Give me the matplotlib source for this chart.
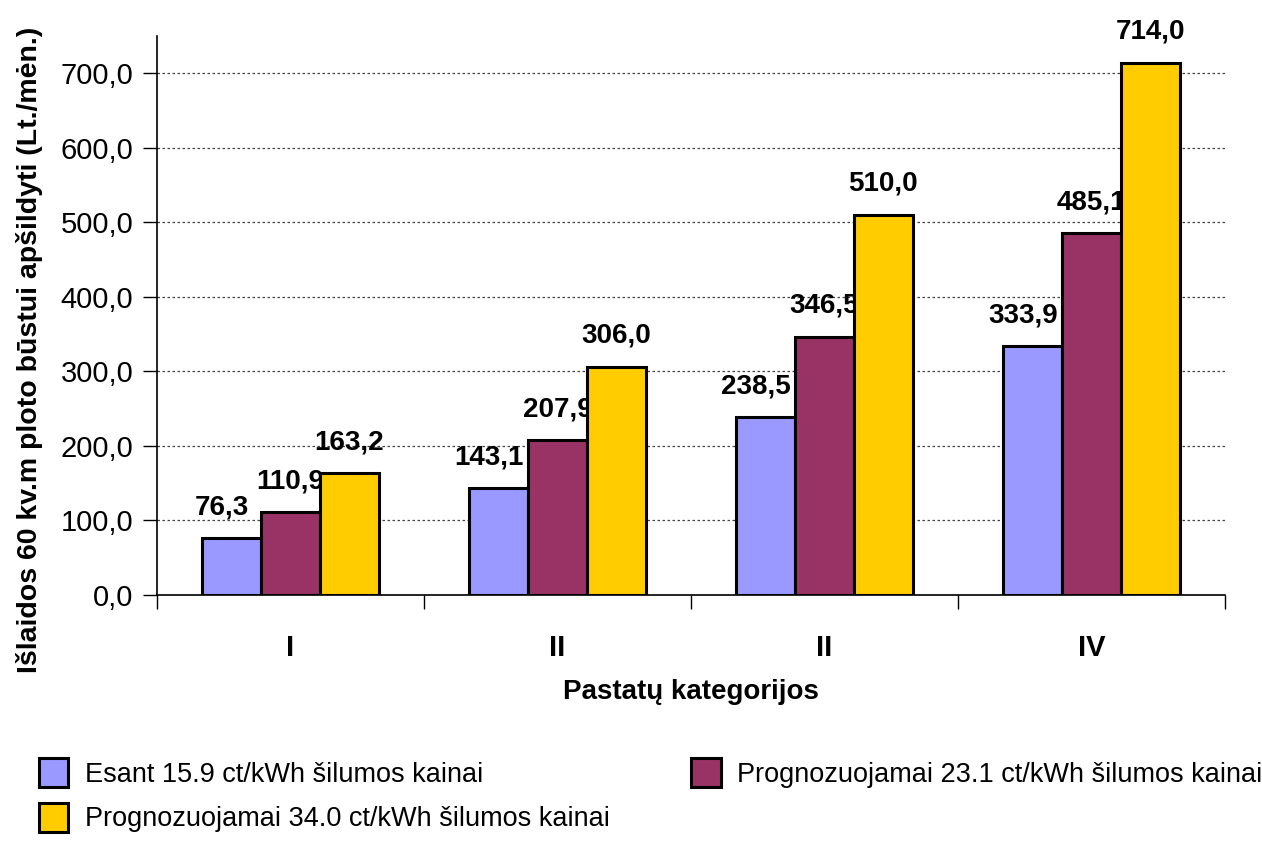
import numpy as np
import matplotlib.pyplot as plt

plt.rcParams['font.family'] = ['Liberation Sans', 'DejaVu Sans']

# data
categories = ['I', 'II', 'II', 'IV']
esant = [76.3, 143.1, 238.5, 333.9]
prog_23 = [110.9, 207.9, 346.5, 485.1]
prog_34 = [163.2, 306.0, 510.0, 714.0]
series_names = ['Esant 15.9 ct/kWh šilumos kainai',
                'Prognozuojamai 23.1 ct/kWh šilumos kainai',
                'Prognozuojamai 34.0 ct/kWh šilumos kainai']
colors = ['#9999FF', '#993366', '#FFCC00']

fig = plt.figure(figsize=[12.62, 8.47], dpi=100)
ax = fig.add_axes([0.1244, 0.2975, 0.8463, 0.66])

x = np.arange(len(categories))
w = 0.22
label_dx = [-7, 0, 0]  # blue labels sit a little left of their bars
handles = []
for i, (vals, name, c) in enumerate(zip([esant, prog_23, prog_34], series_names, colors)):
    bars = ax.bar(x + (i - 1) * w, vals, w, color=c, edgecolor='black', linewidth=2.2, label=name, zorder=3)
    handles.append(bars)
    for xi, v in zip(x + (i - 1) * w, vals):
        ax.annotate(f'{v:.1f}'.replace('.', ','), (xi, v), xytext=(label_dx[i], 13), textcoords='offset points',
                    ha='center', va='bottom', fontsize=20, fontweight='bold')

ax.set_xlim(-0.5, len(categories) - 0.5)
ax.set_ylim(0, 750)
ax.set_yticks(np.arange(0, 701, 100))
ax.set_yticklabels([f'{t:.1f}'.replace('.', ',') for t in np.arange(0, 701, 100)], fontsize=21)
ax.yaxis.grid(True, linestyle=(0, (2, 2)), color='#444444', linewidth=0.9, zorder=0)

# group boundaries as major ticks, category names as minor ticks
ax.set_xticks(np.arange(-0.5, len(categories), 1))
ax.set_xticklabels([])
ax.set_xticks(x, minor=True)
ax.set_xticklabels(categories, minor=True, fontsize=21, fontweight='bold')
ax.tick_params(axis='x', which='minor', length=0, pad=28)
ax.tick_params(axis='x', which='major', length=10, width=1)
ax.tick_params(axis='y', length=10, width=1, pad=7)

for s in ['top', 'right']:
    ax.spines[s].set_visible(False)
for s in ['left', 'bottom']:
    ax.spines[s].set_linewidth(1.2)

ax.set_xlabel('Pastatų kategorijos', fontsize=20, fontweight='bold')
ax.xaxis.set_label_coords(0.5, -0.15)
ax.set_ylabel('Išlaidos 60 kv.m ploto būstui apšildyti (Lt./mėn.)', fontsize=20.5, fontweight='bold')
ax.yaxis.set_label_coords(-0.107, 0.438)

# legend fills row by row in the reference
order = [0, 2, 1]
fig.legend(handles=[handles[k] for k in order], labels=[series_names[k] for k in order],
           loc='upper left', bbox_to_anchor=(0.022, 0.118), ncol=2, frameon=False,
           fontsize=19.5, handlelength=1.1, handleheight=1.3, columnspacing=3.0, labelspacing=0.55,
           handletextpad=0.6, borderaxespad=0)

plt.savefig('out.png', dpi=100)
